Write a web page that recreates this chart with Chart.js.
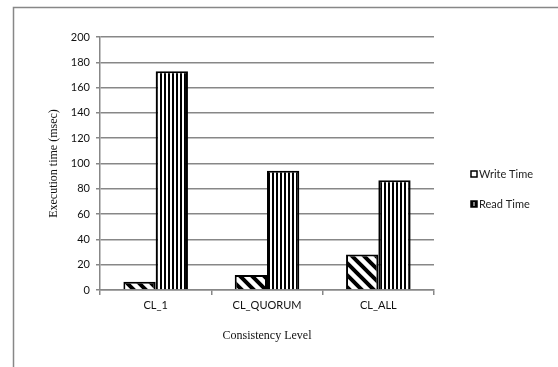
<!DOCTYPE html>
<html>
<head>
<meta charset="utf-8">
<script src="https://cdn.jsdelivr.net/npm/chart.js"></script>
<style>
  html, body { margin: 0; padding: 0; background: #fff; }
  #wrap { width: 558px; height: 367px; position: relative; }
</style>
</head>
<body>
<div id="wrap"><canvas id="c"></canvas></div>
<script>
// data
const levels = ['CL_1', 'CL_QUORUM', 'CL_ALL'];
const writeTime = [6.5, 11.8, 28];
const readTime = [173, 94.3, 86.8];
const yTicks = [0, 20, 40, 60, 80, 100, 120, 140, 160, 180, 200];

const gridGray = '#878787';
const tickFont = { family: 'Lato', size: 11 };
const titleFont = { family: 'Liberation Serif', size: 12 };

// hatch patterns like the old office fills
function diagPattern() {
  const n = 12;
  const t = document.createElement('canvas');
  t.width = n; t.height = n;
  const g = t.getContext('2d');
  g.fillStyle = '#fff';
  g.fillRect(0, 0, n, n);
  g.strokeStyle = '#000';
  g.lineWidth = 4;
  g.beginPath();
  g.moveTo(-2, -2); g.lineTo(n + 2, n + 2);
  g.moveTo(-n - 2, -2); g.lineTo(2, n + 2);
  g.moveTo(n - 2, -2); g.lineTo(2 * n + 2, n + 2);
  g.stroke();
  return g.createPattern(t, 'repeat');
}
function vertPattern() {
  const t = document.createElement('canvas');
  t.width = 4; t.height = 4;
  const g = t.getContext('2d');
  g.fillStyle = '#fff';
  g.fillRect(0, 0, 4, 4);
  g.fillStyle = '#000';
  g.fillRect(0, 0, 2, 4);
  return g.createPattern(t, 'repeat');
}

// outer frame + legend on the right
const extras = {
  id: 'extras',
  afterDraw(chart) {
    const ctx = chart.ctx;
    ctx.save();
    ctx.strokeStyle = gridGray;
    ctx.lineWidth = 1.5;
    ctx.beginPath();
    ctx.moveTo(13.5, 400);
    ctx.lineTo(13.5, 7.5);
    ctx.lineTo(600, 7.5);
    ctx.stroke();

    const rows = [174, 204];
    chart.data.datasets.forEach((ds, i) => {
      const y = rows[i];
      ctx.fillStyle = i === 0 ? '#fff' : '#000';
      ctx.fillRect(471, y - 3, 6, 6);
      if (i === 1) {
        ctx.fillStyle = '#fff';
        ctx.fillRect(473.5, y - 2, 1, 4);
      }
      ctx.strokeStyle = '#000';
      ctx.lineWidth = 1.5;
      ctx.strokeRect(471, y - 3, 6, 6);
      ctx.fillStyle = '#222';
      ctx.font = '11px Lato';
      ctx.textBaseline = 'middle';
      ctx.textAlign = 'left';
      ctx.fillText(ds.label, 479, y);
    });
    ctx.restore();
  }
};

new Chart(document.getElementById('c'), {
  type: 'bar',
  data: {
    labels: levels,
    datasets: [
      { label: 'Write Time', data: writeTime, backgroundColor: diagPattern(),
        borderColor: '#000', borderWidth: 2 },
      { label: 'Read Time', data: readTime, backgroundColor: vertPattern(),
        borderColor: '#000', borderWidth: 2 }
    ]
  },
  options: {
    responsive: true,
    maintainAspectRatio: false,
    animation: false,
    devicePixelRatio: 1,
    layout: { padding: { left: 0, right: 124, top: 37, bottom: 0 } },
    plugins: { legend: { display: false }, tooltip: { enabled: false } },
    datasets: { bar: { categoryPercentage: 0.58, barPercentage: 1 } },
    scales: {
      x: {
        afterFit(s) { s.height = 77; },
        grid: { offset: true, drawOnChartArea: false, color: gridGray, lineWidth: 1.5, tickLength: 5 },
        border: { color: gridGray, width: 1.5 },
        ticks: { color: '#111', font: tickFont, padding: 4 },
        title: { display: true, text: 'Consistency Level', color: '#111', font: titleFont,
                 padding: { top: 0, bottom: 24 } }
      },
      y: {
        min: 0, max: 200,
        afterFit(s) { s.width = 100; },
        afterBuildTicks(s) { s.ticks = yTicks.map(v => ({ value: v })); },
        grid: { color: gridGray, lineWidth: 1.5, tickLength: 4 },
        border: { color: gridGray, width: 1.5 },
        ticks: { color: '#111', font: tickFont, padding: 6 },
        title: { display: true, text: 'Execution time (msec)', color: '#111', font: titleFont,
                 padding: { top: 47, bottom: 0 } }
      }
    }
  },
  plugins: [extras]
});
</script>
</body>
</html>
